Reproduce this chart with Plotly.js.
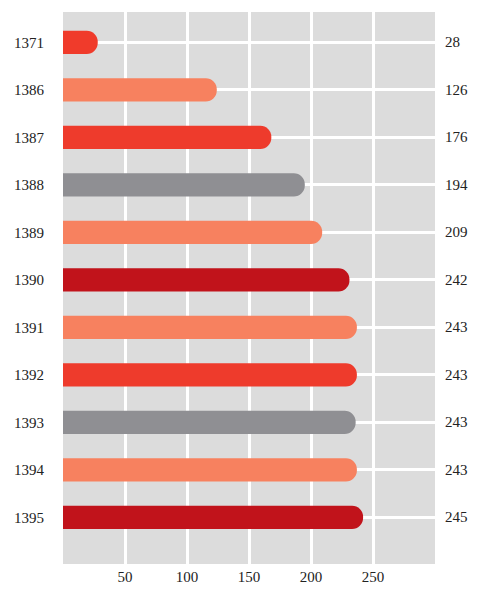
<!DOCTYPE html>
<html>
<head>
<meta charset="utf-8">
<script src="https://cdn.plot.ly/plotly-3.0.1.min.js"></script>
<style>html,body{margin:0;padding:0;background:#fff;}#chart{width:480px;height:589px;}</style>
</head>
<body>
<div id="chart"></div>
<script>
var years = ["1371","1386","1387","1388","1389","1390","1391","1392","1393","1394","1395"];
var barValues = [28, 124, 168, 195, 209, 231, 237, 237, 236, 237, 242];
var valueLabels = ["28","126","176","194","209","242","243","243","243","243","245"];
var barColors = ["#f03b2b","#f7815f","#ee3b2c","#8f8f93","#f7815f","#c1131b","#f7815f","#ee3b2c","#8f8f93","#f7815f","#c1131b"];
var xTicks = [50, 100, 150, 200, 250];

var fontFam = "Liberation Serif, Times New Roman, serif";

var trace = {
  type: "bar",
  orientation: "h",
  y: years,
  x: barValues,
  width: 0.49,
  marker: {color: barColors, cornerradius: "50%", line: {width: 0}},
  hoverinfo: "none"
};

var annotations = years.map(function(y, i){
  return {xref: "paper", x: 1, xanchor: "left", xshift: 8, yref: "y", y: i,
    yanchor: "middle", text: valueLabels[i], showarrow: false,
    font: {family: fontFam, size: 15, color: "#222"}};
});

var layout = {
  width: 480, height: 589,
  margin: {l: 63, r: 45, t: 12, b: 25, pad: 0},
  paper_bgcolor: "#ffffff",
  plot_bgcolor: "#dcdcdc",
  showlegend: false,
  font: {family: fontFam, size: 15, color: "#222"},
  xaxis: {range: [0, 300], tickvals: xTicks, ticktext: xTicks.map(String),
    showgrid: true, gridcolor: "#ffffff", gridwidth: 3, zeroline: false,
    showline: false, ticks: "", ticklabelstandoff: 2,
    tickfont: {family: fontFam, size: 15, color: "#222"}},
  yaxis: {type: "category", categoryorder: "array", categoryarray: years,
    range: [10.98, -0.64], showgrid: true, gridcolor: "#ffffff", gridwidth: 3,
    zeroline: false, showline: false, ticks: "", ticklabelstandoff: 18,
    tickfont: {family: fontFam, size: 15, color: "#222"}},
  annotations: annotations
};

Plotly.newPlot("chart", [trace], layout, {displayModeBar: false, staticPlot: true});
</script>
</body>
</html>
